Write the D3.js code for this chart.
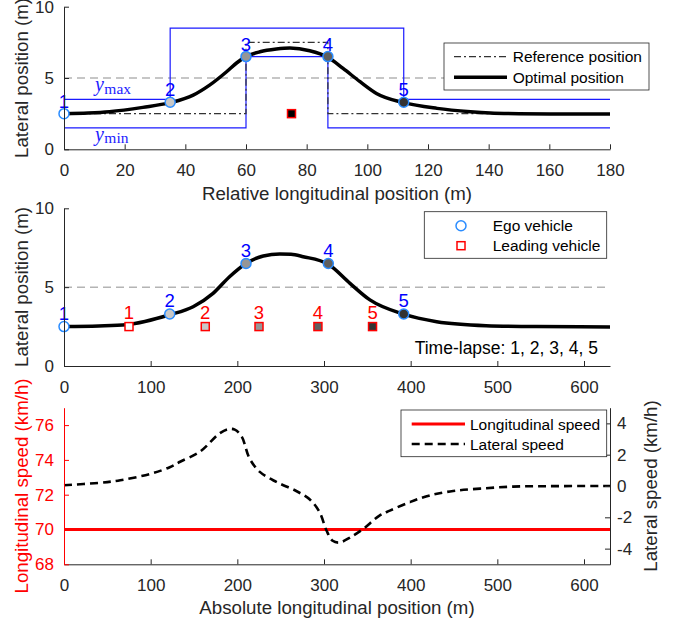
<!DOCTYPE html>
<html>
<head>
<meta charset="utf-8">
<script src="https://cdn.jsdelivr.net/npm/d3@7"></script>
<style>
  body { margin: 0; background: #fff; }
  svg { display: block; font-family: "Liberation Sans", Arial, sans-serif; }
</style>
</head>
<body>
<div id="chart-area"></div>
<script>
// ---- data ----
// top panel (relative longitudinal position)
const relTicks = [0, 20, 40, 60, 80, 100, 120, 140, 160, 180];
const latPosTicks = [0, 5, 10];
const ymaxX = [0, 35, 35, 112, 112, 180];
const ymaxY = [3.5, 3.5, 8.5, 8.5, 3.5, 3.5];
const yminX = [0, 60, 60, 87, 87, 180];
const yminY = [1.5, 1.5, 6.5, 6.5, 1.5, 1.5];
const refX = [0, 60, 60, 87, 87, 180];
const refY = [2.5, 2.5, 7.5, 7.5, 2.5, 2.5];
const optRelX = [0, 8, 15, 26, 35, 42.6, 48, 53.6, 57, 60, 64.6, 70, 74.5, 81, 87, 92, 97.6, 103, 112, 123, 134, 140.5, 150, 165, 180];
const optRelY = [2.5, 2.55, 2.64, 2.94, 3.27, 3.8, 4.5, 5.44, 6.07, 6.5, 6.84, 7.03, 7.1, 6.91, 6.45, 5.67, 4.74, 3.92, 3.27, 2.87, 2.64, 2.55, 2.5, 2.48, 2.48];
const egoRelX = [0, 35, 60, 87, 112];
const leadRelX = [75];
const leadRelY = [2.5];

// middle panel (absolute longitudinal position)
const absTicks = [0, 100, 200, 300, 400, 500, 600];
const optAbsX = [0, 40, 72, 122, 149, 172, 191, 210, 230, 249, 262, 276, 305, 330, 353, 391, 430, 487, 545, 630];
const optAbsY = [2.5, 2.54, 2.62, 3.25, 3.76, 4.61, 5.66, 6.5, 6.98, 7.1, 7.08, 6.93, 6.45, 5.24, 4.19, 3.3, 2.81, 2.56, 2.5, 2.48];
const egoAbsX = [0, 122, 210, 305, 392];
const egoY = [2.5, 3.3, 6.5, 6.5, 3.3];
const leadAbsX = [75, 163, 225, 293, 356];
const leadY = [2.5, 2.5, 2.5, 2.5, 2.5];
const stepLabels = ["1", "2", "3", "4", "5"];
const laneMid = 5;

// bottom panel (speeds)
const longSpeedTicks = [68, 70, 72, 74, 76];
const latSpeedTicks = [-4, -2, 0, 2, 4];
const longX = [0, 630];
const longV = [70, 70];
const latX = [0, 40, 65, 100, 122, 134, 157, 180, 190, 197, 205, 214, 226, 245, 268, 284, 295, 303, 310, 318, 330, 345, 364, 376, 399, 422, 449, 480, 518, 560, 630];
const latV = [0.05, 0.2, 0.37, 0.78, 1.2, 1.55, 2.2, 3.38, 3.64, 3.6, 3.16, 1.77, 0.9, 0.26, -0.32, -0.88, -1.68, -2.86, -3.5, -3.61, -3.29, -2.75, -1.89, -1.57, -1.03, -0.6, -0.32, -0.17, -0.04, -0.01, 0];

(function () {
  const W = 678, H = 624;
  const left = 64, right = 610;
  const axisColor = "#262626";
  const shades = ["#ffffff", "#c8c8c8", "#969696", "#5f5f5f", "#333333"];
  const egoEdge = "#2a8cff";
  const plainNum = d => String(d); // hyphen minus like the original

  const svg = d3.select("#chart-area").append("svg")
    .attr("width", W).attr("height", H);

  // scales
  const xRel = d3.scaleLinear().domain([0, 180]).range([left, right]);
  const xAbs = d3.scaleLinear().domain([0, 630]).range([left, right]);
  const yTop = d3.scaleLinear().domain([0, 10]).range([149.3, 6.7]);
  const yMid = d3.scaleLinear().domain([0, 10]).range([366, 208.3]);
  const yLong = d3.scaleLinear().domain([68, 77]).range([564.3, 407.7]);
  const yLat = d3.scaleLinear().domain([-5, 5]).range([564.3, 407.7]);

  function drawAxis(axis, ty, tx, color) {
    const g = svg.append("g")
      .attr("transform", `translate(${tx || 0},${ty || 0})`)
      .call(axis.tickFormat(plainNum))
      .attr("font-size", 17)
      .attr("font-family", null);
    g.select(".domain").attr("stroke", color);
    g.selectAll(".tick line").attr("stroke", color);
    g.selectAll(".tick text").attr("fill", color);
    return g;
  }

  function xAxis(scale, ticks, y) {
    drawAxis(d3.axisBottom(scale).tickValues(ticks).tickSizeInner(-5).tickSizeOuter(0).tickPadding(15), y, 0, axisColor);
  }
  function yAxisLeft(scale, ticks, color) {
    drawAxis(d3.axisLeft(scale).tickValues(ticks).tickSizeInner(-5).tickSizeOuter(0).tickPadding(10), 0, left, color);
  }

  function label(text, x, y, rotate, color) {
    svg.append("text")
      .attr("transform", `translate(${x},${y})` + (rotate ? " rotate(-90)" : ""))
      .attr("text-anchor", "middle")
      .attr("font-size", 18.7)
      .attr("fill", color || axisColor)
      .text(text);
  }

  const pts = (xs, ys) => d3.zip(xs, ys);

  // ================= top panel =================
  const lineTop = d3.line().x(d => xRel(d[0])).y(d => yTop(d[1]));

  svg.append("line")
    .attr("x1", xRel(0)).attr("x2", xRel(180))
    .attr("y1", yTop(laneMid)).attr("y2", yTop(laneMid))
    .attr("stroke", "#b4b4b4").attr("stroke-width", 1.5).attr("stroke-dasharray", "8,5");

  [[ymaxX, ymaxY], [yminX, yminY]].forEach(([xs, ys]) => {
    svg.append("path").attr("d", lineTop(pts(xs, ys)))
      .attr("fill", "none").attr("stroke", "#1a1aff").attr("stroke-width", 1.2);
  });

  svg.append("path").attr("d", lineTop(pts(refX, refY)))
    .attr("fill", "none").attr("stroke", "#333").attr("stroke-width", 1.2)
    .attr("stroke-dasharray", "7,3,2,3");

  svg.append("path").attr("d", lineTop.curve(d3.curveMonotoneX)(pts(optRelX, optRelY)))
    .attr("fill", "none").attr("stroke", "#000").attr("stroke-width", 3.5);
  lineTop.curve(d3.curveLinear);

  // ymax / ymin labels
  [["max", 4.08], ["min", 0.6]].forEach(([sub, yv]) => {
    const t = svg.append("text")
      .attr("x", xRel(10.2)).attr("y", yTop(yv))
      .attr("fill", "#2222ff").attr("font-family", "'Liberation Serif', 'DejaVu Serif', serif");
    t.append("tspan").attr("font-style", "italic").attr("font-size", 20).text("y");
    t.append("tspan").attr("font-size", 15.5).attr("dy", 2.5).attr("dx", 0.5).text(sub);
  });

  // leading vehicle in relative frame
  svg.selectAll(".leadRel").data(leadRelX).enter().append("rect")
    .attr("x", (d) => xRel(d) - 4).attr("y", (d, i) => yTop(leadRelY[i]) - 4)
    .attr("width", 8).attr("height", 8)
    .attr("fill", "#000").attr("stroke", "#ff0000").attr("stroke-width", 1.5);

  // ego markers
  svg.selectAll(".egoRel").data(egoRelX).enter().append("circle")
    .attr("cx", d => xRel(d)).attr("cy", (d, i) => yTop(egoY[i])).attr("r", 5)
    .attr("fill", (d, i) => shades[i]).attr("stroke", egoEdge).attr("stroke-width", 1.5);
  svg.selectAll(".egoRelLab").data(egoRelX).enter().append("text")
    .attr("x", d => xRel(d)).attr("y", (d, i) => yTop(egoY[i]) - 6)
    .attr("text-anchor", "middle").attr("font-size", 18.5).attr("fill", "#0000ff")
    .text((d, i) => stepLabels[i]);

  xAxis(xRel, relTicks, 149.3);
  yAxisLeft(yTop, latPosTicks, axisColor);
  label("Relative longitudinal position (m)", 337, 199.5, false);
  label("Lateral position (m)", 28, 78, true);

  // top legend
  const lg1 = svg.append("g");
  lg1.append("rect").attr("x", 444).attr("y", 43).attr("width", 205).attr("height", 47)
    .attr("fill", "#fff").attr("stroke", axisColor).attr("stroke-width", 0.8);
  lg1.append("line").attr("x1", 454).attr("x2", 507).attr("y1", 56.7).attr("y2", 56.7)
    .attr("stroke", "#333").attr("stroke-width", 1.2).attr("stroke-dasharray", "7,3,2,3");
  lg1.append("line").attr("x1", 454).attr("x2", 507).attr("y1", 77.3).attr("y2", 77.3)
    .attr("stroke", "#000").attr("stroke-width", 3.5);
  lg1.append("text").attr("x", 512.7).attr("y", 56.7 + 5.5).attr("font-size", 15.5).attr("fill", "#000").text("Reference position");
  lg1.append("text").attr("x", 512.7).attr("y", 77.3 + 5.5).attr("font-size", 15.5).attr("fill", "#000").text("Optimal position");

  // ================= middle panel =================
  const lineMid = d3.line().x(d => xAbs(d[0])).y(d => yMid(d[1])).curve(d3.curveMonotoneX);

  svg.append("line")
    .attr("x1", xAbs(0)).attr("x2", xAbs(630))
    .attr("y1", yMid(laneMid)).attr("y2", yMid(laneMid))
    .attr("stroke", "#b4b4b4").attr("stroke-width", 1.5).attr("stroke-dasharray", "8,5");

  svg.append("path").attr("d", lineMid(pts(optAbsX, optAbsY)))
    .attr("fill", "none").attr("stroke", "#000").attr("stroke-width", 3.5);

  svg.selectAll(".leadAbs").data(leadAbsX).enter().append("rect")
    .attr("x", d => xAbs(d) - 4).attr("y", (d, i) => yMid(leadY[i]) - 4)
    .attr("width", 8).attr("height", 8)
    .attr("fill", (d, i) => shades[i]).attr("stroke", "#ff0000").attr("stroke-width", 1.5);
  svg.selectAll(".leadAbsLab").data(leadAbsX).enter().append("text")
    .attr("x", d => xAbs(d)).attr("y", (d, i) => yMid(leadY[i]) - 7.5)
    .attr("text-anchor", "middle").attr("font-size", 18.5).attr("fill", "#ff0000")
    .text((d, i) => stepLabels[i]);

  svg.selectAll(".egoAbs").data(egoAbsX).enter().append("circle")
    .attr("cx", d => xAbs(d)).attr("cy", (d, i) => yMid(egoY[i])).attr("r", 5)
    .attr("fill", (d, i) => shades[i]).attr("stroke", egoEdge).attr("stroke-width", 1.5);
  svg.selectAll(".egoAbsLab").data(egoAbsX).enter().append("text")
    .attr("x", d => xAbs(d)).attr("y", (d, i) => yMid(egoY[i]) - 6.5)
    .attr("text-anchor", "middle").attr("font-size", 18.5).attr("fill", "#0000ff")
    .text((d, i) => stepLabels[i]);

  svg.append("text").attr("x", xAbs(616)).attr("y", yMid(0.76))
    .attr("text-anchor", "end").attr("font-size", 17.5).attr("fill", "#000")
    .text("Time-lapse: 1, 2, 3, 4, 5");

  xAxis(xAbs, absTicks, 366);
  yAxisLeft(yMid, latPosTicks, axisColor);
  label("Lateral position (m)", 28, 287, true);

  // middle legend
  const lg2 = svg.append("g");
  lg2.append("rect").attr("x", 424.3).attr("y", 211.7).attr("width", 182.4).attr("height", 46.6)
    .attr("fill", "#fff").attr("stroke", axisColor).attr("stroke-width", 0.8);
  lg2.append("circle").attr("cx", 461).attr("cy", 225.7).attr("r", 5)
    .attr("fill", "none").attr("stroke", egoEdge).attr("stroke-width", 1.5);
  lg2.append("rect").attr("x", 457).attr("y", 241.7).attr("width", 8).attr("height", 8)
    .attr("fill", "none").attr("stroke", "#ff0000").attr("stroke-width", 1.5);
  lg2.append("text").attr("x", 492.7).attr("y", 225.7 + 5.5).attr("font-size", 15.5).attr("fill", "#000").text("Ego vehicle");
  lg2.append("text").attr("x", 492.7).attr("y", 245.7 + 5.5).attr("font-size", 15.5).attr("fill", "#000").text("Leading vehicle");

  // ================= bottom panel =================
  const lineLong = d3.line().x(d => xAbs(d[0])).y(d => yLong(d[1]));
  const lineLat = d3.line().x(d => xAbs(d[0])).y(d => yLat(d[1])).curve(d3.curveCatmullRom.alpha(0.5));

  svg.append("path").attr("d", lineLong(pts(longX, longV)))
    .attr("fill", "none").attr("stroke", "#ff0000").attr("stroke-width", 3);
  svg.append("path").attr("d", lineLat(pts(latX, latV)))
    .attr("fill", "none").attr("stroke", "#000").attr("stroke-width", 2.6)
    .attr("stroke-dasharray", "8,5");

  xAxis(xAbs, absTicks, 564.3);
  yAxisLeft(yLong, longSpeedTicks, "#ff0000");
  drawAxis(d3.axisRight(yLat).tickValues(latSpeedTicks).tickSizeInner(-5).tickSizeOuter(0).tickPadding(7), 0, right, axisColor);
  label("Absolute longitudinal position (m)", 337, 614, false);
  label("Longitudinal speed (km/h)", 28, 486, true, "#ff0000");
  label("Lateral speed (km/h)", 656.5, 486, true);

  // bottom legend
  const lg3 = svg.append("g");
  lg3.append("rect").attr("x", 401).attr("y", 410).attr("width", 205.7).attr("height", 46.7)
    .attr("fill", "#fff").attr("stroke", axisColor).attr("stroke-width", 0.8);
  lg3.append("line").attr("x1", 411.7).attr("x2", 465).attr("y1", 424).attr("y2", 424)
    .attr("stroke", "#ff0000").attr("stroke-width", 3);
  lg3.append("line").attr("x1", 411.7).attr("x2", 465).attr("y1", 444).attr("y2", 444)
    .attr("stroke", "#000").attr("stroke-width", 2.6).attr("stroke-dasharray", "8,5");
  lg3.append("text").attr("x", 470).attr("y", 424 + 5.5).attr("font-size", 15.5).attr("fill", "#000").text("Longitudinal speed");
  lg3.append("text").attr("x", 470).attr("y", 444 + 5.5).attr("font-size", 15.5).attr("fill", "#000").text("Lateral speed");
})();
</script>
</body>
</html>
